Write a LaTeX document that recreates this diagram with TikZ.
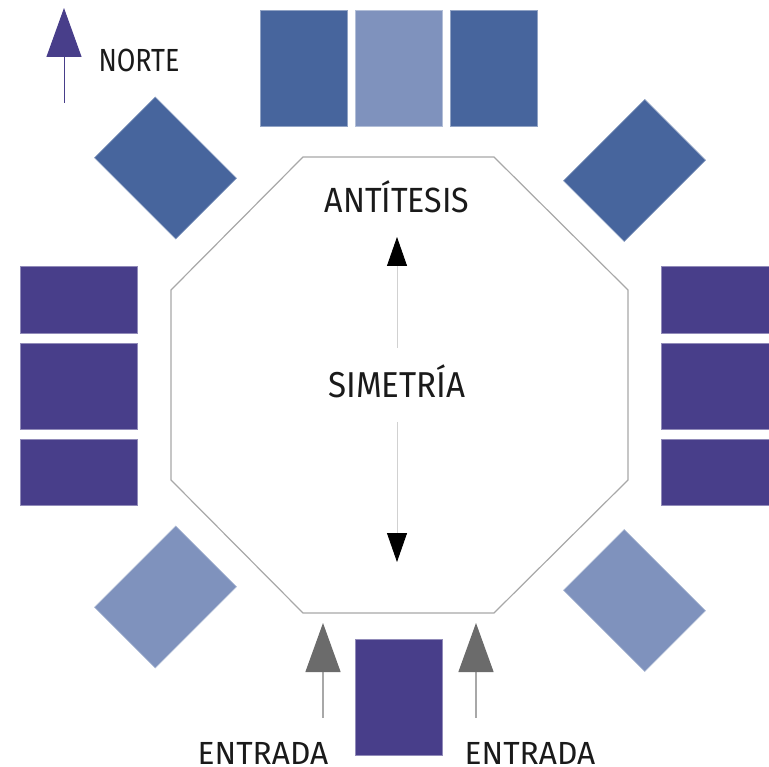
\documentclass[tikz,border=0pt]{standalone}
\usepackage{fontspec}
\setmainfont{Fira Sans}[FakeStretch=0.92]
\newfontfamily\angosta{Fira Sans}[FakeStretch=0.84]
\newfontfamily\abierta{Fira Sans}[FakeStretch=0.99]
\usepackage{tikz}
\usetikzlibrary{arrows.meta}
\definecolor{azul}{HTML}{47659D}
\definecolor{celeste}{HTML}{7F92BD}
\definecolor{morado}{HTML}{483E8A}
\definecolor{gris}{HTML}{A8A8A8}
\definecolor{grisosc}{HTML}{6B6B6B}
\definecolor{tinta}{HTML}{1A1A1A}

\begin{document}
\begin{tikzpicture}[x=1pt,y=-1pt,every node/.style={inner sep=0pt,outer sep=0pt},
  mesa/.style={rectangle,fill=#1,draw=#1!60!white,line width=.6pt},
  alta/.style={minimum width=87pt,minimum height=116pt},
  ancha/.style={minimum width=115pt,minimum height=86pt},
  rotulo/.style={text=tinta,anchor=base,font=\fontsize{#1}{#1}\selectfont}]
  \useasboundingbox (0,0) rectangle (769,767);
  \clip (0,0) rectangle (769,767);

  \node[mesa=azul,alta] (t1) at (303.5,68) {};
  \node[mesa=celeste,alta] (t2) at (398.5,68) {};
  \node[mesa=azul,alta] (t3) at (493.5,68) {};
  \node[mesa=morado,alta] (s1) at (398.5,697) {};

  \node[mesa=morado,minimum width=117pt,minimum height=67pt] (w1) at (78.5,299.5) {};
  \node[mesa=morado,minimum width=117pt,minimum height=86pt] (w2) at (78.5,386) {};
  \node[mesa=morado,minimum width=117pt,minimum height=66pt] (w3) at (78.5,472) {};
  \node[mesa=morado,minimum width=117pt,minimum height=67pt] (e1) at (719.5,299.5) {};
  \node[mesa=morado,minimum width=117pt,minimum height=86pt] (e2) at (719.5,386) {};
  \node[mesa=morado,minimum width=117pt,minimum height=66pt] (e3) at (719.5,472) {};

  \node[mesa=azul,ancha,rotate=-45] (nw) at (165.5,168) {};
  \node[mesa=azul,ancha,rotate=45] (ne) at (634.5,170.5) {};
  \node[mesa=celeste,ancha,rotate=45] (sw) at (165.5,597) {};
  \node[mesa=celeste,ancha,rotate=-45] (se) at (634.5,600.5) {};

  \draw[gris,line width=1.2pt,line join=miter] (303,157) -- (494,157) -- (628,290) -- (628,480)
    -- (494,613) -- (303,613) -- (171,480) -- (171,290) -- cycle;

  \node[rotulo=32] (norte) at (139,72) {\angosta NORTE};
  \node[rotulo=35] (ant) at (397,213) {ANTÍTESIS};
  \node[rotulo=36] (sim) at (397,398) {SIMETRÍA};
  \node[rotulo=32] (ent1) at (263,764) {\abierta ENTRADA};
  \node[rotulo=32] (ent2) at (530,764) {\abierta ENTRADA};

  \coordinate (nt) at (64,103);
  \coordinate (nh) at (64,8);
  \coordinate (simsur) at (397,562);
  \coordinate (ent1a) at (323,718);
  \coordinate (ent1b) at (323,623);
  \coordinate (ent2a) at (476,718);
  \coordinate (ent2b) at (476,623);

  \draw[morado,line width=1pt,-{Triangle[width=35pt,length=49pt]}] (nt) -- (nh);
  \draw[black!18,line width=.8pt,-{Triangle[width=20pt,length=29pt,color=black]},
    shorten <=50pt,shorten >=24pt] (sim.base) -- (ant.base);
  \draw[black!18,line width=.8pt,-{Triangle[width=20pt,length=29pt,color=black]},
    shorten <=24pt] (sim.base) -- (simsur);
  \draw[gris,line width=1.3pt,-{Triangle[width=35pt,length=49pt,color=grisosc]}] (ent1a) -- (ent1b);
  \draw[gris,line width=1.3pt,-{Triangle[width=35pt,length=49pt,color=grisosc]}] (ent2a) -- (ent2b);
\end{tikzpicture}
\end{document}
